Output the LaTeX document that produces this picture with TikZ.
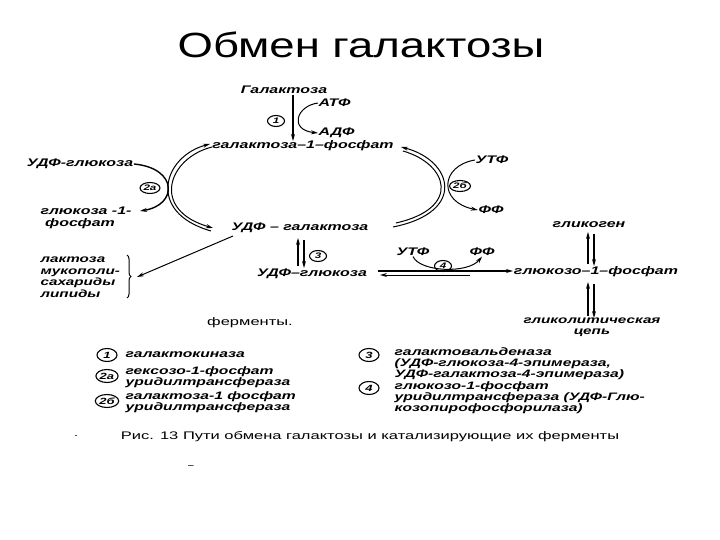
\documentclass[tikz,border=0pt]{standalone}
\usepackage{fontspec}
\setmainfont{Liberation Sans}
\newfontfamily\lab{Liberation Sans}[FakeStretch=1.45]
\newfontfamily\capf{Liberation Sans}[FakeStretch=1.5]
\newfontfamily\titf{Liberation Sans}[FakeStretch=1.3]
\usetikzlibrary{arrows.meta,shapes.geometric,decorations.pathreplacing}
\tikzset{
  lbl/.style={font=\lab\bfseries\itshape\fontsize{11}{11.5}\selectfont, inner sep=0.5pt},
  leg/.style={lbl, anchor=west, align=left, font=\lab\bfseries\itshape\fontsize{10.8}{10.8}\selectfont},
  num/.style={draw, ellipse, line width=1.1pt, inner sep=0.6pt, minimum width=17pt, minimum height=11pt, font=\lab\bfseries\itshape\fontsize{8}{8}\selectfont},
  lnum/.style={num, minimum width=20pt, minimum height=13pt, font=\lab\bfseries\itshape\fontsize{9}{9}\selectfont},
  rx/.style={line width=1.3pt, -{Stealth[length=7pt,width=4pt]}},
  thin/.style={line width=1pt},
  tip/.style={-{Stealth[length=7pt,width=4pt]}},
}
\begin{document}
\begin{tikzpicture}[x=1pt,y=-1pt]
\useasboundingbox (0,0) rectangle (720,540);
\fill[white] (0,0) rectangle (720,540);
% title
\node[font=\titf\fontsize{35}{38}\selectfont] (title) at (361,45) {Обмен галактозы};
% top
\node[lbl] (gal) at (284,90) {Галактоза};
\node[lbl, anchor=west] (atf1) at (318,103) {АТФ};
\node[lbl, anchor=west] (adf1) at (318,133) {АДФ};
\node[lbl] (g1p) at (303,146) {галактоза–1–фосфат};
\node[num] (n1) at (276,121) {1};
\draw[rx, line width=1.8pt] (gal.south -| 293,0) -- (293,141);
\draw[thin, tip] (atf1.west) .. controls (296,106) and (289,130) .. (adf1.west);
% left cycle
\node[lbl] (udfglc1) at (80,164) {УДФ-глюкоза};
\node[lbl] (glc1) at (86,211) {глюкоза -1-};
\node[lbl] (fosf1) at (80,224) {фосфат};
\node[num] (n2a) at (150,188) {2а};
\draw[thin, tip] (212,147) .. controls (168,158) and (150,210) .. (213,228);
\draw[thin, {Stealth[length=7pt,width=4pt]}-] (210,144) .. controls (164,156) and (145,212) .. (211,231);
\draw[line width=1.4pt, tip] (udfglc1.east) .. controls (178,168) and (178,205) .. (140,211);
% right cycle
\node[lbl] (utf1) at (492,160) {УТФ};
\node[lbl] (ff1) at (491,210) {ФФ};
\node[num] (n2b) at (460,186) {2б};
\draw[thin, {Stealth[length=7pt,width=4pt]}-] (401,147) .. controls (452,160) and (468,212) .. (393,227);
\draw[thin] (403,151) .. controls (448,164) and (462,208) .. (396,223);
\draw[thin, tip] (utf1.west) .. controls (440,166) and (438,202) .. (ff1.west);
% middle
\node[lbl] (udfgal) at (300,228) {УДФ – галактоза};
\node[lbl] (udfglc2) at (312,274) {УДФ–глюкоза};
\node[num] (n3) at (318,256) {3};
\draw[rx, line width=1.6pt] (298,266) -- (298,238);
\draw[rx, line width=1.6pt] (304,240) -- (304,268);
% lactose
\node[lbl, anchor=west, align=left, font=\lab\bfseries\itshape\fontsize{10.5}{11.5}\selectfont] (lact) at (40,277) {лактоза\\мукополи-\\сахариды\\липиды};
\draw[thin, decorate, decoration={brace, amplitude=4pt}] (127,255) -- (127,298);
\coordinate (bracetip) at (137,277);
\draw[thin, tip] (233,236) -- (bracetip);
% bottom horizontal
\node[lbl] (glc1p) at (596,272) {глюкозо–1–фосфат};
\node[lbl] (utf2) at (413,252) {УТФ};
\node[lbl] (ff2) at (482,252) {ФФ};
\node[num] (n4) at (443,266) {4};
\draw[line width=1.3pt, tip] (378,271) -- (513,271);
\draw[thin, tip] (470,275) -- (380,275);
\draw[thin, tip] (utf2.south) .. controls (420,272) and (468,274) .. (ff2.south);
% right vertical
\node[lbl] (glycogen) at (589,225) {гликоген};
\node[lbl, align=center, font=\lab\bfseries\itshape\fontsize{10.5}{11}\selectfont] (glycol) at (592,327) {гликолитическая\\цепь};
\draw[rx, line width=1.5pt] (588,264) -- (588,232);
\draw[rx, line width=1.5pt] (594,234) -- (594,266);
\draw[rx, line width=1.5pt] (588,316) -- (588,282);
\draw[rx, line width=1.5pt] (594,284) -- (594,318);
% legend
\node[font=\capf\fontsize{11}{12}\selectfont] (ferm) at (250,323) {ферменты.};
\node[lnum] (l1) at (107,355) {1};
\node[leg] (t1) at (125,355) {галактокиназа};
\node[lnum] (l2a) at (107,376) {2а};
\node[leg] (t2a) at (125,377) {гексозо-1-фосфат\\уридилтрансфераза};
\node[lnum] (l2b) at (107,401) {2б};
\node[leg] (t2b) at (125,402) {галактоза-1 фосфат\\уридилтрансфераза};
\node[lnum] (l3) at (369,355) {3};
\node[leg] (t3) at (394,364) {галактовальденаза\\(УДФ-глюкоза-4-эпимераза,\\УДФ-галактоза-4-эпимераза)};
\node[lnum] (l4) at (369,388) {4};
\node[leg] (t4) at (394,398) {глюкозо-1-фосфат\\уридилтрансфераза (УДФ-Глю-\\козопирофосфорилаза)};
\node[font=\capf\fontsize{11}{12}\selectfont] (caption) at (370,437) {Рис. 13 Пути обмена галактозы и катализирующие их ферменты};
\node[font=\fontsize{9}{9}\selectfont] (dot1) at (76,437) {-};
\node[font=\fontsize{10}{10}\selectfont] (dash2) at (191,467) {–};
\end{tikzpicture}
\end{document}
